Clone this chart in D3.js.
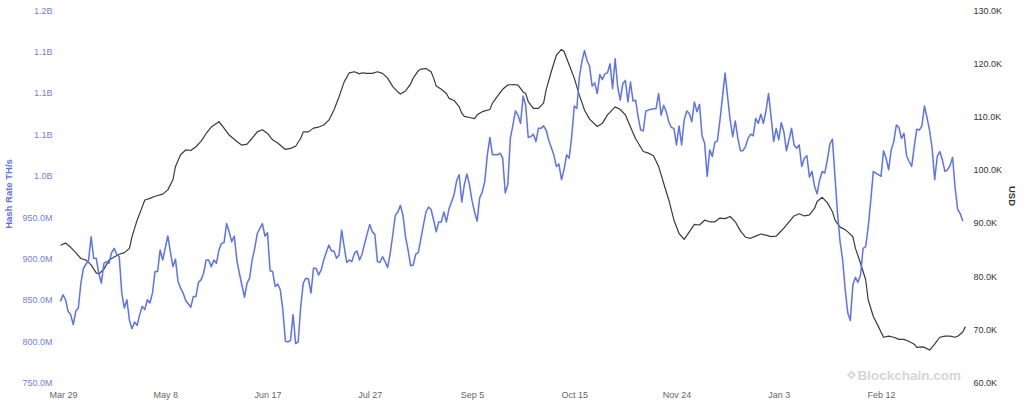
<!DOCTYPE html>
<html><head><meta charset="utf-8">
<script src="https://cdn.jsdelivr.net/npm/d3@7"></script>
<style>html,body{margin:0;padding:0;background:#fff;} svg{display:block;font-family:"Liberation Sans",Arial,sans-serif;}</style>
</head><body><svg id="chart" width="1024" height="404"></svg>
<script>
// ---------- data ----------
const startDate = "2025-03-29";
const xTickDays = [0, 40, 80, 120, 160, 200, 240, 280, 320];
const xTickLabels = ["Mar 29", "May 8", "Jun 17", "Jul 27", "Sep 5", "Oct 15", "Nov 24", "Jan 3", "Feb 12"];

const hashTicks = [750, 800, 850, 900, 950, 1000, 1050, 1100, 1150, 1200];
const hashTickLabels = ["750.0M", "800.0M", "850.0M", "900.0M", "950.0M", "1.0B", "1.1B", "1.1B", "1.1B", "1.2B"];
const priceTicks = [60, 70, 80, 90, 100, 110, 120, 130];
const priceTickLabels = ["60.0K", "70.0K", "80.0K", "90.0K", "100.0K", "110.0K", "120.0K", "130.0K"];

// Hash rate (millions of TH/s), day offsets from startDate
const hashDay = [-1,0,1,2,3,4,5,6,7,8,10,11,12,13,14,15,16,17,18,19,20,21,22,23,24,25,26,27,28,29,
30,31,32,33,34,35,36,37,38,39,41,42,43,44,45,46,47,48,50,51,52,53,54,55,56,57,58,59,60,61,
62,63,64,65,66,67,68,69,71,72,73,74,75,76,78,79,80,81,82,83,84,85,86,87,88,89,90,91,92,93,
94,95,96,97,98,99,100,101,102,104,105,106,107,108,109,110,111,112,113,114,115,116,117,118,120,121,122,123,124,125,
126,127,128,129,130,131,132,133,134,135,136,137,138,139,141,142,143,144,145,146,147,148,149,150,151,152,153,154,155,156,
157,158,159,160,161,162,163,164,165,166,167,168,169,170,171,172,173,174,175,176,177,178,179,180,181,182,183,184,185,186,
187,188,189,190,191,192,193,194,195,196,197,198,199,200,201,202,203,204,205,206,207,208,209,210,211,212,213,214,215,216,
217,218,219,220,221,222,223,224,225,226,227,228,229,230,232,233,234,235,236,237,238,239,240,241,242,243,244,245,246,247,
248,249,250,251,252,253,254,255,256,257,258,259,260,261,262,263,264,265,266,267,268,269,270,271,272,273,274,275,276,277,
278,279,280,281,282,283,284,285,286,287,288,289,290,291,292,293,294,295,296,297,298,299,300,301,302,303,304,305,306,307,
308,309,310,311,312,313,314,315,316,317,318,320,321,322,323,324,325,326,327,328,329,330,331,332,333,334,335,336,337,338,
339,340,341,342,343,344,345,346,347,348,349,350,351,352];
const hashRateM = [848,856,850,836,832,820,836,840,870,888,898,926,900,900,882,870,894,896,894,907,912,905,902,858,840,850,825,815,823,819,
832,842,838,850,846,858,884,884,910,898,927,908,890,899,872,864,858,849,841,854,854,871,874,882,898,898,890,898,894,910,
918,919,942,932,920,927,898,882,853,870,876,898,912,930,942,927,931,885,884,866,869,862,838,800,799,801,832,797,799,842,
870,876,875,858,888,888,880,886,898,916,909,909,900,904,934,914,895,898,896,906,909,898,905,918,941,932,929,896,895,902,
896,889,906,928,952,956,964,952,926,910,891,892,905,907,940,956,962,959,946,932,944,944,956,944,960,968,977,994,1001,968,
989,1002,989,970,956,945,973,980,993,1025,1046,1025,1025,1025,1027,1021,979,989,1045,1061,1078,1073,1063,1096,1085,1046,1047,1050,1041,1057,
1057,1060,1055,1043,1034,1025,1011,1014,995,1007,1025,1021,1047,1084,1081,1119,1138,1151,1139,1132,1108,1112,1099,1122,1116,1123,1124,1135,1105,1141,
1107,1091,1111,1115,1089,1113,1090,1091,1071,1055,1054,1078,1079,1080,1081,1099,1073,1085,1077,1065,1058,1057,1037,1060,1037,1067,1078,1075,1065,1089,
1077,1086,1048,1039,999,1031,1023,1040,1042,1067,1095,1124,1095,1067,1047,1066,1045,1030,1030,1035,1045,1050,1048,1069,1063,1074,1063,1078,1099,1071,
1041,1057,1043,1064,1053,1030,1043,1057,1037,1033,1037,1011,1021,1024,998,1005,987,978,995,1005,1003,1019,1038,1044,999,954,920,898,862,834,
825,868,877,871,880,912,914,938,970,1005,1003,999,1030,1021,1007,1031,1041,1061,1058,1045,1051,1024,1017,1011,1035,1056,1055,1060,1084,1070,
1055,1033,995,1023,1029,1019,1005,1007,1012,1022,985,959,954,945];

// Bitcoin price (thousands of USD), day offsets from startDate
const priceDay = [-1,1,3,5,7,9,11,13,14,16,18,20,22,24,26,27,29,31,32,34,36,39,41,43,44,46,48,50,52,54,
56,58,61,63,65,68,70,72,74,76,78,80,82,84,87,89,91,93,94,96,98,100,102,104,106,108,110,112,114,116,
117,119,121,123,125,127,129,131,132,134,136,137,139,140,142,144,145,146,148,150,151,153,155,156,157,159,161,162,164,167,
168,170,172,174,176,178,180,181,182,184,186,188,189,191,193,195,196,198,200,202,204,206,209,211,213,216,218,220,222,224,
227,229,231,233,235,237,239,241,243,245,247,249,251,253,255,257,259,261,263,265,267,269,271,273,275,277,279,280,282,284,
286,288,290,292,294,295,297,299,301,302,304,306,307,309,310,312,314,315,317,319,321,323,325,327,329,331,333,334,336,337,
339,341,343,345,347,349,350,352,353];
const priceK = [85.8,86.2,85.4,84.4,83.3,83.0,82.1,80.6,80.4,81.3,83.0,83.6,84.1,84.4,85.2,87.4,90.5,93.0,94.3,94.6,95.0,95.4,96.2,98.1,100.6,102.8,103.7,103.6,104.3,105.3,
106.8,108.0,109.0,107.8,106.5,105.3,104.6,104.8,105.9,107.1,107.5,106.8,105.6,105.0,103.8,104.0,104.4,105.9,107.1,107.1,107.8,108.0,108.4,109.3,111.2,113.7,116.5,118.2,118.4,118.0,
118.2,118.1,118.1,118.4,118.1,117.2,115.6,114.6,114.2,114.8,116.1,117.2,118.6,118.9,119.0,118.4,117.2,115.7,115.1,114.3,113.4,113.0,111.8,110.6,110.0,109.8,109.6,110.3,110.9,111.3,
112.5,113.8,115.1,115.9,116.0,115.9,114.6,114.3,112.8,111.5,111.5,112.5,115.0,118.4,121.5,122.6,122.2,119.7,117.2,114.0,111.2,109.5,108.1,108.7,110.3,111.8,111.3,110.3,108.0,105.8,
103.4,103.1,102.6,100.6,97.4,94.3,90.5,88.0,86.9,88.3,89.7,89.6,90.5,90.2,90.2,90.9,90.8,91.2,90.2,88.5,87.3,87.1,87.5,87.9,87.7,87.4,87.5,88.0,89.0,90.2,
91.3,91.7,91.3,91.5,92.7,94.0,94.8,93.8,92.1,90.5,89.2,88.7,88.3,87.4,85.2,82.4,79.3,75.5,72.4,70.5,68.5,68.7,68.5,68.1,68.1,67.7,67.2,66.6,66.7,66.6,
66.1,67.2,68.5,68.7,68.7,68.5,68.7,69.5,70.5];

// ---------- drawing ----------
const svg = d3.select("#chart");
const t0 = d3.utcParse("%Y-%m-%d")(startDate);
const dayDate = d => d3.utcDay.offset(t0, d);
const pxPerDay = 2.55625, x0 = 63;

const x = d3.scaleUtc()
  .domain([dayDate(-1), dayDate(353)])
  .range([x0 - pxPerDay, x0 + 353 * pxPerDay]);
const yL = d3.scaleLinear().domain([750, 1200]).range([382.5, 10]);
const yR = d3.scaleLinear().domain([60, 130]).range([382.5, 10]);

const blue = "#5a72f7", blueText = "#6c7ff6", dark = "#3a3a3a";

// watermark
const wm = svg.append("g").attr("fill", "#d5d5d5");
wm.append("path").attr("d", "M851.5,370.5 L856,375 L851.5,379.5 L847,375 Z");
wm.append("path").attr("d", "M851.5,373 L853.5,375 L851.5,377 L849.5,375 Z").attr("fill", "#fff");
wm.append("text").attr("x", 857.5).attr("y", 379.5)
  .attr("font-size", 13.5).attr("font-weight", "bold").text("Blockchain.com");

// axes
const gL = svg.append("g").attr("transform", "translate(60,0)")
  .call(d3.axisLeft(yL).tickValues(hashTicks).tickFormat((d, i) => hashTickLabels[i]).tickSize(0).tickPadding(7.5));
gL.select(".domain").remove();
gL.selectAll("text").attr("fill", blueText).attr("font-size", 9).attr("font-family", null).attr("dy", "0.34em");

const gR = svg.append("g").attr("transform", "translate(966,0)")
  .call(d3.axisRight(yR).tickValues(priceTicks).tickFormat((d, i) => priceTickLabels[i]).tickSize(0).tickPadding(7.5));
gR.select(".domain").remove();
gR.selectAll("text").attr("fill", "#333").attr("font-size", 9).attr("font-family", null).attr("dy", "0.34em");

const gX = svg.append("g").attr("transform", "translate(0,395)")
  .call(d3.axisBottom(x).tickValues(xTickDays.map(dayDate)).tickFormat((d, i) => xTickLabels[i]).tickSize(0).tickPadding(0));
gX.select(".domain").remove();
gX.selectAll("text").attr("fill", "#666").attr("font-size", 9).attr("font-family", null).attr("y", 0).attr("dy", "0.34em");

// axis titles
svg.append("text").attr("transform", "translate(12,194) rotate(-90)")
  .attr("text-anchor", "middle").attr("fill", blue).attr("font-size", 9.5).attr("font-weight", "bold")
  .text("Hash Rate TH/s");
svg.append("text").attr("transform", "translate(1009,196) rotate(90)")
  .attr("text-anchor", "middle").attr("fill", "#333").attr("font-size", 9.5).attr("font-weight", "bold")
  .text("USD");

// lines
const priceData = priceDay.map((d, i) => ({ date: dayDate(d), v: priceK[i] }));
const hashData = hashDay.map((d, i) => ({ date: dayDate(d), v: hashRateM[i] }));

svg.append("path").datum(priceData)
  .attr("fill", "none").attr("stroke", dark).attr("stroke-width", 1.2).attr("stroke-linejoin", "round")
  .attr("d", d3.line().x(d => x(d.date)).y(d => yR(d.v)));
svg.append("path").datum(hashData)
  .attr("fill", "none").attr("stroke", blue).attr("stroke-width", 1.5).attr("stroke-linejoin", "round")
  .attr("d", d3.line().x(d => x(d.date)).y(d => yL(d.v)));
</script></body></html>
